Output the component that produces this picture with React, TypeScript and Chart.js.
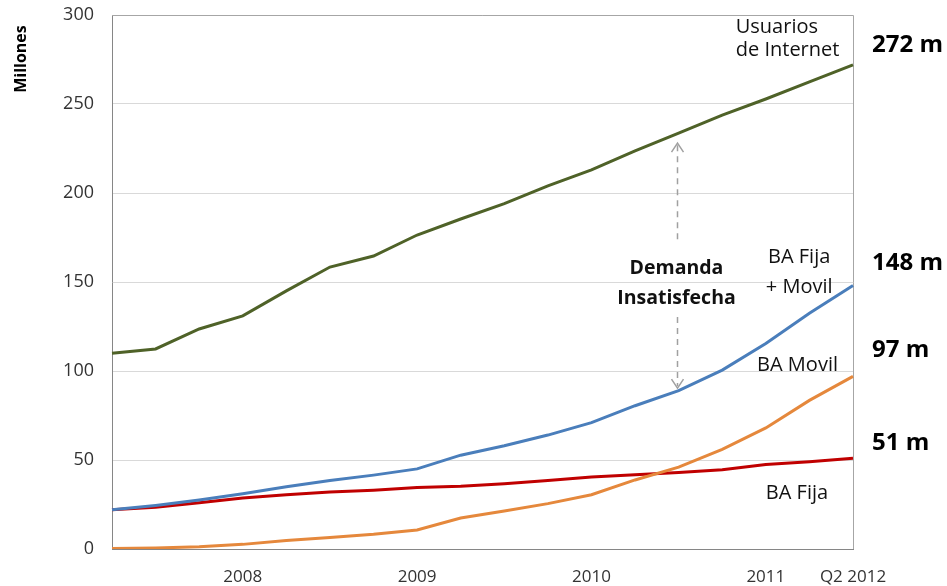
import React, { useEffect, useRef } from 'react';
import { Chart, registerables } from 'chart.js';

Chart.register(...registerables);

// Quarterly categories (Q1 2008 .. Q2 2012)
const quarters = [
  'Q1 2008', 'Q2 2008', 'Q3 2008', 'Q4 2008',
  'Q1 2009', 'Q2 2009', 'Q3 2009', 'Q4 2009',
  'Q1 2010', 'Q2 2010', 'Q3 2010', 'Q4 2010',
  'Q1 2011', 'Q2 2011', 'Q3 2011', 'Q4 2011',
  'Q1 2012', 'Q2 2012',
];

// Values in millions
const usuariosInternet = [110, 112.4, 123.6, 131, 145, 158.4, 164.6, 176.4, 185.4, 194, 204, 213, 223.6, 233.7, 243.8, 252.8, 262.4, 272];
const baFijaMovil = [22, 24.5, 27.5, 31, 35, 38.5, 41.5, 45, 52.7, 58, 64, 71, 80.5, 89, 100.5, 115.5, 132.5, 148];
const baFija = [22, 23.5, 26, 28.6, 30.5, 32, 33, 34.5, 35.3, 36.7, 38.5, 40.5, 41.7, 43, 44.5, 47.5, 49, 51];
const baMovil = [0.3, 0.6, 1.2, 2.6, 4.8, 6.5, 8.3, 10.7, 17.4, 21.3, 25.5, 30.5, 38.8, 46, 56, 68, 83.5, 97];

// Y axis ticks
const yMin = 0;
const yMax = 300;
const yStep = 50;

// Axis titles / annotations (positions in data units: category index, value)
const yTitle = 'Millones';
const endLabels = ['272 m', '148 m', '97 m', '51 m'];
const endLabelValues = [283, 160.7, 111.8, 59.6];
const seriesLabels = ['Usuarios', 'de Internet', 'BA Fija', '+ Movil', 'BA Movil', 'BA Fija'];
const seriesLabelX = [14.31, 14.31, 15.05, 15.0, 14.8, 15.0];
const seriesLabelY = [293.3, 280.3, 164, 147.2, 103.4, 31.5];
const gapLabels = ['Demanda', 'Insatisfecha'];
const gapLabelX = 12.95;
const gapLabelY = [157.9, 141];
const arrowX = 12.96;
const arrowTopSegment = [228, 172.5];
const arrowBottomSegment = [130.3, 90.4];

function tickText(label: string, i: number): string {
  if (i === quarters.length - 1) return label;
  if (label.startsWith('Q4')) return label.slice(3);
  return '';
}

const FONT = '"Open Sans", "Liberation Sans", sans-serif';

const framePlugin = {
  id: 'frame',
  beforeDatasetsDraw(chart: any) {
    const { ctx, chartArea } = chart;
    ctx.save();
    ctx.strokeStyle = '#a6a6a6';
    ctx.lineWidth = 1;
    ctx.beginPath();
    ctx.moveTo(chartArea.left, chartArea.top + 0.5);
    ctx.lineTo(chartArea.right + 0.5, chartArea.top + 0.5);
    ctx.lineTo(chartArea.right + 0.5, chartArea.bottom);
    ctx.stroke();
    ctx.restore();
  },
  afterDraw(chart: any) {
    const { ctx, chartArea, scales } = chart;
    const x = scales.x;
    const y = scales.y;
    ctx.save();

    // Y title
    ctx.save();
    ctx.translate(21, 59);
    ctx.rotate(-Math.PI / 2);
    ctx.font = `bold 16px ${FONT}`;
    ctx.fillStyle = '#000';
    ctx.textAlign = 'center';
    ctx.textBaseline = 'middle';
    ctx.fillText(yTitle, 0, 0);
    ctx.restore();

    // End value labels
    ctx.font = `bold 24px ${FONT}`;
    ctx.fillStyle = '#000';
    ctx.textAlign = 'left';
    ctx.textBaseline = 'middle';
    endLabels.forEach((t, i) => {
      ctx.fillText(t, chartArea.right + 19, y.getPixelForValue(endLabelValues[i]));
    });

    // Series labels
    ctx.font = `20px ${FONT}`;
    ctx.fillStyle = '#111';
    seriesLabels.forEach((t, i) => {
      ctx.fillText(t, x.getPixelForValue(seriesLabelX[i]), y.getPixelForValue(seriesLabelY[i]));
    });

    // Gap label
    ctx.font = `bold 19.5px ${FONT}`;
    ctx.textAlign = 'center';
    gapLabels.forEach((t, i) => {
      ctx.fillText(t, x.getPixelForValue(gapLabelX), y.getPixelForValue(gapLabelY[i]));
    });

    // Dashed arrows
    const ax = Math.round(x.getPixelForValue(arrowX)) + 0.5;
    ctx.strokeStyle = '#a0a0a0';
    ctx.lineWidth = 1.5;
    ctx.setLineDash([6, 5]);
    const tTop = y.getPixelForValue(arrowTopSegment[0]);
    const tBot = y.getPixelForValue(arrowTopSegment[1]);
    const bTop = y.getPixelForValue(arrowBottomSegment[0]);
    const bBot = y.getPixelForValue(arrowBottomSegment[1]);
    ctx.beginPath();
    ctx.moveTo(ax, tTop + 2);
    ctx.lineTo(ax, tBot);
    ctx.moveTo(ax, bTop);
    ctx.lineTo(ax, bBot - 2);
    ctx.stroke();
    ctx.setLineDash([]);
    ctx.beginPath();
    ctx.moveTo(ax - 6, tTop + 9);
    ctx.lineTo(ax, tTop);
    ctx.lineTo(ax + 6, tTop + 9);
    ctx.moveTo(ax - 6, bBot - 9);
    ctx.lineTo(ax, bBot);
    ctx.lineTo(ax + 6, bBot - 9);
    ctx.stroke();

    ctx.restore();
  },
};

export default function App() {
  const canvasRef = useRef<HTMLCanvasElement | null>(null);

  useEffect(() => {
    document.body.style.margin = '0';
    const canvas = canvasRef.current;
    if (!canvas) return;
    const line = (data: number[], color: string) => ({
      data,
      borderColor: color,
      backgroundColor: color,
      borderWidth: 3,
      pointRadius: 0,
      tension: 0,
      fill: false,
    });
    const chart = new Chart(canvas, {
      type: 'line',
      data: {
        labels: quarters,
        datasets: [
          { label: 'BA Movil', ...line(baMovil, '#e5883c') },
          { label: 'BA Fija + Movil', ...line(baFijaMovil, '#4a7ebb') },
          { label: 'BA Fija', ...line(baFija, '#c00000') },
          { label: 'Usuarios de Internet', ...line(usuariosInternet, '#4f6228') },
        ],
      },
      options: {
        animation: false,
        responsive: false,
        devicePixelRatio: 1,
        layout: { autoPadding: false, padding: { left: 0, top: 15, right: 94, bottom: 0 } },
        plugins: {
          legend: { display: false },
          tooltip: { enabled: false },
        },
        scales: {
          x: {
            type: 'category',
            offset: false,
            grid: { display: false, drawTicks: false },
            border: { display: true, color: '#868686', width: 1 },
            ticks: {
              autoSkip: false,
              maxRotation: 0,
              minRotation: 0,
              padding: 18,
              color: '#333',
              font: { family: FONT, size: 17 },
              callback: (_v: any, i: number) => tickText(quarters[i], i),
            },
            afterFit: (scale: any) => {
              scale.height = 37;
              scale.paddingLeft = 0;
              scale.paddingRight = 0;
            },
          },
          y: {
            min: yMin,
            max: yMax,
            grid: { color: '#d9d9d9', lineWidth: 1, drawTicks: false },
            border: { display: true, color: '#868686', width: 1 },
            ticks: {
              stepSize: yStep,
              padding: 18,
              color: '#333',
              font: { family: FONT, size: 18 },
            },
            afterFit: (scale: any) => {
              scale.width = 112;
              scale.paddingTop = 0;
              scale.paddingBottom = 0;
            },
          },
        },
      },
      plugins: [framePlugin],
    });
    return () => chart.destroy();
  }, []);

  return (
    <div style={{ position: 'relative', width: 947, height: 586 }}>
      <canvas ref={canvasRef} width={947} height={586} />
    </div>
  );
}
